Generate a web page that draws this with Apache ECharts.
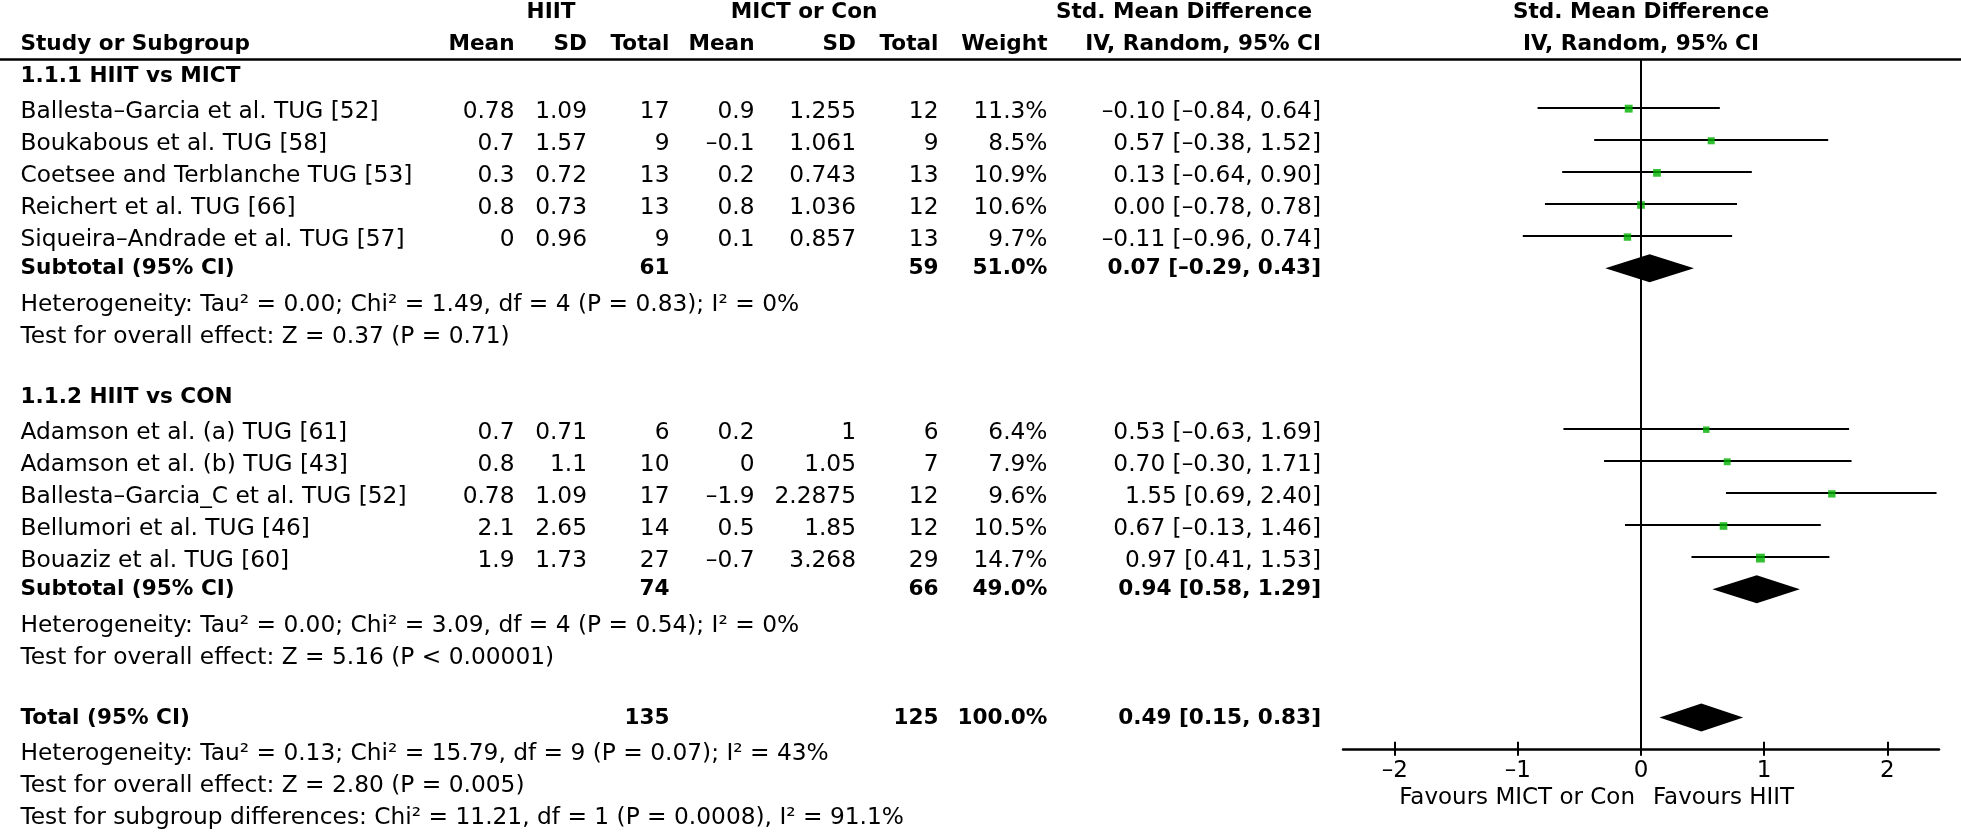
<!DOCTYPE html>
<html><head><meta charset="utf-8">
<script src="https://cdn.jsdelivr.net/npm/echarts@6/dist/echarts.min.js"></script>
<style>html,body{margin:0;padding:0;background:#fff}#c{width:1961px;height:832px}</style>
</head><body><div id="c"></div>
<script>
// ---------------- DATA ----------------
const studyNames = ['Ballesta–Garcia et al. TUG [52]', 'Boukabous et al. TUG [58]', 'Coetsee and Terblanche TUG [53]',
  'Reichert et al. TUG [66]', 'Siqueira–Andrade et al. TUG [57]', 'Adamson et al. (a) TUG [61]',
  'Adamson et al. (b) TUG [43]', 'Ballesta–Garcia_C et al. TUG [52]', 'Bellumori et al. TUG [46]', 'Bouaziz et al. TUG [60]'];
const studyGroup = [0, 0, 0, 0, 0, 1, 1, 1, 1, 1];
const hiitMean = [0.78, 0.7, 0.3, 0.8, 0, 0.7, 0.8, 0.78, 2.1, 1.9];
const hiitSD = [1.09, 1.57, 0.72, 0.73, 0.96, 0.71, 1.1, 1.09, 2.65, 1.73];
const hiitTotal = [17, 9, 13, 13, 9, 6, 10, 17, 14, 27];
const conMean = [0.9, -0.1, 0.2, 0.8, 0.1, 0.2, 0, -1.9, 0.5, -0.7];
const conSD = [1.255, 1.061, 0.743, 1.036, 0.857, 1, 1.05, 2.2875, 1.85, 3.268];
const conTotal = [12, 9, 13, 12, 13, 6, 7, 12, 12, 29];
const weights = [11.3, 8.5, 10.9, 10.6, 9.7, 6.4, 7.9, 9.6, 10.5, 14.7];
const smd = [-0.10, 0.57, 0.13, 0.00, -0.11, 0.53, 0.70, 1.55, 0.67, 0.97];
const ciLow = [-0.84, -0.38, -0.64, -0.78, -0.96, -0.63, -0.30, 0.69, -0.13, 0.41];
const ciHigh = [0.64, 1.52, 0.90, 0.78, 0.74, 1.69, 1.71, 2.40, 1.46, 1.53];

const subgroupTitles = ['1.1.1 HIIT vs MICT', '1.1.2 HIIT vs CON'];
const subHiitTotal = [61, 74];
const subConTotal = [59, 66];
const subWeight = [51.0, 49.0];
const subSmd = [0.07, 0.94];
const subLow = [-0.29, 0.58];
const subHigh = [0.43, 1.29];
const subHeterogeneity = ['Heterogeneity: Tau² = 0.00; Chi² = 1.49, df = 4 (P = 0.83); I² = 0%',
  'Heterogeneity: Tau² = 0.00; Chi² = 3.09, df = 4 (P = 0.54); I² = 0%'];
const subOverall = ['Test for overall effect: Z = 0.37 (P = 0.71)', 'Test for overall effect: Z = 5.16 (P < 0.00001)'];

const totalHiit = 135, totalCon = 125, totalWeight = 100.0;
const totalSmd = 0.49, totalLow = 0.15, totalHigh = 0.83;
const totalNotes = ['Heterogeneity: Tau² = 0.13; Chi² = 15.79, df = 9 (P = 0.07); I² = 43%',
  'Test for overall effect: Z = 2.80 (P = 0.005)',
  'Test for subgroup differences: Chi² = 11.21, df = 1 (P = 0.0008), I² = 91.1%'];

const tickValues = [-2, -1, 0, 1, 2];
const favourLabels = ['Favours MICT or Con', 'Favours HIIT'];
const headerGroups = ['HIIT', 'MICT or Con', 'Std. Mean Difference'];
const headerCols = ['Study or Subgroup', 'Mean', 'SD', 'Total', 'Mean', 'SD', 'Total', 'Weight', 'IV, Random, 95% CI'];
const plotHeader = ['Std. Mean Difference', 'IV, Random, 95% CI'];

// ---------------- LAYOUT / STYLE ----------------
const FF = '"DejaVu Sans", sans-serif';
const REG = '23.3px ' + FF;
const BOLD = 'bold 21.6px ' + FF;
const GREEN = '#00b000';
const colX = {name: 20.5, hMean: 514.5, hSD: 587, hTot: 669.5, cMean: 754.5, cSD: 856, cTot: 938.5, wt: 1047.5, ci: 1321};

const dash = s => String(s).replace(/-/g, '–');
const f2 = v => dash(v.toFixed(2));
const ciStr = (e, l, h) => f2(e) + ' [' + f2(l) + ', ' + f2(h) + ']';

// ---------------- ROW STRUCTURE ----------------
let rowCursor = -1;
const studyRow = [], titleRow = [], subRow = [], hetRow = [], testRow = [];
for (let gi = 0; gi < subgroupTitles.length; gi++) {
  titleRow[gi] = rowCursor++;
  studyNames.forEach((n, i) => { if (studyGroup[i] === gi) studyRow[i] = rowCursor++; });
  subRow[gi] = rowCursor++;
  hetRow[gi] = rowCursor++;
  testRow[gi] = rowCursor++;
  rowCursor++; // blank
}
const totalRow = rowCursor++;
const noteRows = totalNotes.map(() => rowCursor++);

const ciData = studyNames.map((n, i) => [ciLow[i], ciHigh[i], studyRow[i]]);
const sqData = studyNames.map((n, i) => [smd[i], studyRow[i], weights[i]]);
const diaData = subgroupTitles.map((t, k) => [subLow[k], subSmd[k], subHigh[k], subRow[k]])
  .concat([[totalLow, totalSmd, totalHigh, totalRow]]);

const chart = echarts.init(document.getElementById('c'), null, {renderer: 'canvas'});
const option = {
  animation: false,
  backgroundColor: '#fff',
  grid: {left: 1343, right: 22, top: 59.5, bottom: 82.3, containLabel: false},
  xAxis: [
    {type: 'value', min: -2.42, max: 2.42, position: 'bottom', splitLine: {show: false},
     axisLine: {show: true, onZero: false, lineStyle: {color: '#000', width: 2.5}},
     axisTick: {show: true, inside: true, length: 8, customValues: tickValues, lineStyle: {color: '#000', width: 2}},
     axisLabel: {show: true, customValues: tickValues, margin: 10, fontSize: 23, fontFamily: FF, color: '#000',
       formatter: v => dash(v)}},
    {type: 'value', min: -2.42, max: 2.42, position: 'bottom', splitLine: {show: false},
     axisLine: {show: false, onZero: false},
     axisTick: {show: true, inside: false, length: 6, customValues: tickValues, lineStyle: {color: '#000', width: 2}},
     axisLabel: {show: false}}
  ],
  yAxis: {type: 'value', min: -1.5, max: totalRow + 1, inverse: true, show: false},
  series: [
    {type: 'custom', silent: true, clip: false, z: 2,
     renderItem: (p, api) => {
       const a = api.coord([api.value(0), api.value(2)]);
       const b = api.coord([api.value(1), api.value(2)]);
       const y = Math.round(a[1]);
       return {type: 'line', shape: {x1: a[0], y1: y, x2: b[0], y2: y}, style: {stroke: '#000', lineWidth: 2}};
     },
     encode: {x: [0, 1], y: 2}, data: ciData},
    {type: 'scatter', silent: true, z: 3, symbol: 'rect', symbolOffset: [0, 1],
     symbolSize: v => 4.6 + 0.29 * v[2],
     itemStyle: {color: GREEN}, data: sqData,
     markLine: {silent: true, symbol: 'none', animation: false, label: {show: false},
       lineStyle: {color: '#000', width: 2, type: 'solid'}, data: [{xAxis: 0}]}},
    {type: 'custom', silent: true, clip: false, z: 3,
     renderItem: (p, api) => {
       const l = api.coord([api.value(0), api.value(3)]);
       const e = api.coord([api.value(1), api.value(3)]);
       const h = api.coord([api.value(2), api.value(3)]);
       const hh = 14;
       return {type: 'polygon', shape: {points: [[l[0], l[1]], [e[0], e[1] - hh], [h[0], h[1]], [e[0], e[1] + hh]]},
         style: {fill: '#000'}};
     },
     encode: {x: [0, 1, 2], y: 3}, data: diaData}
  ]
};
chart.setOption(option);

// ---------------- TEXT (positioned through the y scale) ----------------
const yPx = row => chart.convertToPixel({yAxisIndex: 0}, row);
const xPx = v => chart.convertToPixel({xAxisIndex: 0}, v);
const els = [];
function txt(x, row, text, align, bold) {
  const y = yPx(row) + (bold ? 0.7 : 4.3);
  els.push({type: 'text', x: x, y: y, silent: true,
    style: {text: text, font: bold ? BOLD : REG, fill: '#000', align: align, verticalAlign: 'middle',
      textAlign: align, textVerticalAlign: 'middle'}});
}
const headerTop = yPx(-1.5);
els.push({type: 'line', silent: true, shape: {x1: 0, y1: headerTop, x2: 1961, y2: headerTop}, style: {stroke: '#000', lineWidth: 2.5}});
txt(551, -3, headerGroups[0], 'center', true);
txt(804, -3, headerGroups[1], 'center', true);
txt(1184, -3, headerGroups[2], 'center', true);
const hx = [colX.name, colX.hMean, colX.hSD, colX.hTot, colX.cMean, colX.cSD, colX.cTot, colX.wt, colX.ci];
headerCols.forEach((h, i) => txt(hx[i], -2, h, i === 0 ? 'left' : 'right', true));
const midX = (xPx(-2.42) + xPx(2.42)) / 2;
txt(midX, -3, plotHeader[0], 'center', true);
txt(midX, -2, plotHeader[1], 'center', true);

for (let k = 0; k < subgroupTitles.length; k++) {
  txt(colX.name, titleRow[k], subgroupTitles[k], 'left', true);
  txt(colX.name, subRow[k], 'Subtotal (95% CI)', 'left', true);
  txt(colX.hTot, subRow[k], String(subHiitTotal[k]), 'right', true);
  txt(colX.cTot, subRow[k], String(subConTotal[k]), 'right', true);
  txt(colX.wt, subRow[k], subWeight[k].toFixed(1) + '%', 'right', true);
  txt(colX.ci, subRow[k], ciStr(subSmd[k], subLow[k], subHigh[k]), 'right', true);
  txt(colX.name, hetRow[k], subHeterogeneity[k], 'left', false);
  txt(colX.name, testRow[k], subOverall[k], 'left', false);
}
studyNames.forEach((n, i) => {
  const row = studyRow[i];
  txt(colX.name, row, n, 'left', false);
  txt(colX.hMean, row, dash(hiitMean[i]), 'right', false);
  txt(colX.hSD, row, dash(hiitSD[i]), 'right', false);
  txt(colX.hTot, row, String(hiitTotal[i]), 'right', false);
  txt(colX.cMean, row, dash(conMean[i]), 'right', false);
  txt(colX.cSD, row, dash(conSD[i]), 'right', false);
  txt(colX.cTot, row, String(conTotal[i]), 'right', false);
  txt(colX.wt, row, weights[i].toFixed(1) + '%', 'right', false);
  txt(colX.ci, row, ciStr(smd[i], ciLow[i], ciHigh[i]), 'right', false);
});
txt(colX.name, totalRow, 'Total (95% CI)', 'left', true);
txt(colX.hTot, totalRow, String(totalHiit), 'right', true);
txt(colX.cTot, totalRow, String(totalCon), 'right', true);
txt(colX.wt, totalRow, totalWeight.toFixed(1) + '%', 'right', true);
txt(colX.ci, totalRow, ciStr(totalSmd, totalLow, totalHigh), 'right', true);
totalNotes.forEach((t, i) => txt(colX.name, noteRows[i], t, 'left', false));

const axisY = yPx(totalRow + 1);
const zx = xPx(0);
[[zx - 6, 'right'], [zx + 12, 'left']].forEach((p, i) => {
  els.push({type: 'text', x: p[0], y: axisY + 48.5, silent: true,
    style: {text: favourLabels[i], font: '23px ' + FF, fill: '#000', align: p[1], verticalAlign: 'middle',
      textAlign: p[1], textVerticalAlign: 'middle'}});
});
chart.setOption({graphic: {elements: els}});
</script>
</body></html>
